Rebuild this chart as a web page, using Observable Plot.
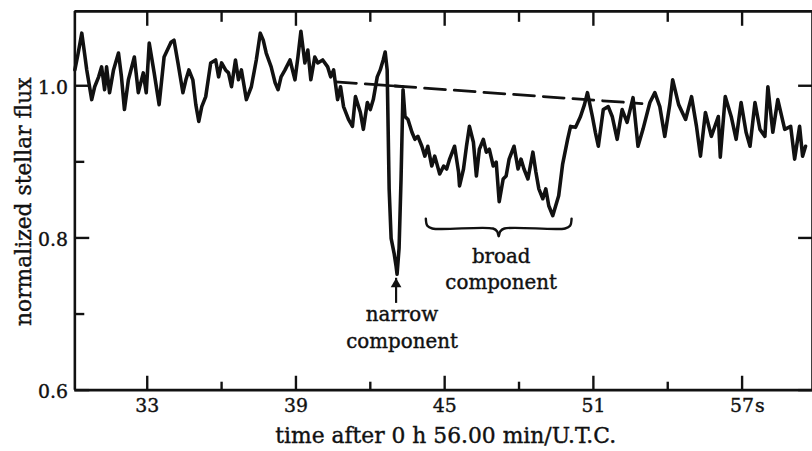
<!DOCTYPE html>
<html><head><meta charset="utf-8">
<script src="https://cdn.jsdelivr.net/npm/d3@7"></script>
<script src="https://cdn.jsdelivr.net/npm/@observablehq/plot@0.6"></script>
<style>
html,body{margin:0;padding:0;background:#fff;overflow:hidden;width:812px;height:451px}
#chart svg{display:block}
#chart text{stroke:#111;stroke-width:0.4px}
</style></head><body><div id="chart"></div>
<script>
// time in seconds after 0 h 56.00 min UTC
const time = [
30.08,30.20,30.36,30.48,30.56,30.76,30.88,31.04,31.16,31.28,31.36,31.48,31.64,31.84,31.96,32.08,32.24,32.48,32.64,32.84,32.96,33.08,33.28,33.48,33.68,33.96,34.08,34.24,34.44,34.56,34.68,34.84,34.96,35.08,
35.20,35.36,35.56,35.76,35.88,36.00,36.16,36.28,36.40,36.56,36.68,36.80,37.00,37.20,37.40,37.56,37.68,37.80,38.00,38.16,38.28,38.40,38.56,38.76,38.96,39.08,39.20,39.36,39.48,39.60,39.76,39.88,
40.08,40.28,40.40,40.52,40.68,40.80,40.92,41.12,41.28,41.40,41.60,41.72,41.88,42.00,42.12,42.28,42.40,42.52,42.60,42.68,42.76,42.84,42.96,43.04,43.08,43.16,43.24,43.32,43.40,43.52,43.68,43.80,43.92,44.08,44.20,44.32,44.48,44.60,44.80,
44.96,45.08,45.20,45.40,45.56,45.60,45.76,45.88,46.00,46.16,46.28,46.40,46.56,46.68,46.80,46.96,47.08,47.20,47.36,47.48,47.60,47.80,47.96,48.08,48.20,48.36,48.56,48.68,48.80,48.96,49.08,49.20,49.36,49.48,49.60,49.76,
49.96,50.08,50.28,50.48,50.64,50.76,50.96,51.08,51.20,51.40,51.60,51.76,51.96,52.16,52.36,52.60,52.80,53.00,53.28,53.48,53.68,53.88,54.08,54.20,
54.44,54.72,54.96,55.16,55.32,55.52,55.76,56.04,56.12,56.32,56.56,56.76,56.96,57.16,57.32,57.52,57.72,57.92,58.04,58.24,58.44,58.72,58.96,59.12,59.32,59.44,59.56];
// normalized stellar flux
const flux = [
1.0208,1.0404,1.0691,1.0404,1.0208,0.9818,0.9987,1.0117,1.0248,0.9948,1.0248,0.9909,1.0208,1.0430,1.0117,0.9687,1.0078,1.0378,0.9909,1.0169,0.9909,1.0560,1.0169,0.9752,1.0378,1.0573,1.0599,1.0300,0.9909,1.0078,1.0208,1.0078,0.9752,0.9531,
0.9726,0.9857,1.0300,1.0339,1.0117,1.0300,1.0208,1.0169,0.9987,1.0339,1.0078,1.0208,0.9818,0.9987,1.0339,1.0691,1.0599,1.0430,1.0248,1.0039,0.9948,1.0117,1.0208,1.0339,1.0078,1.0378,1.0717,1.0300,1.0469,1.0078,1.0378,1.0300,
1.0339,1.0248,1.0117,1.0208,0.9818,0.9987,0.9726,0.9557,0.9466,0.9857,0.9648,0.9427,0.9779,0.9687,0.9818,1.0117,1.0208,1.0339,1.0443,1.0208,0.8645,0.7993,0.7798,0.7629,0.7524,0.7863,0.8775,0.9948,0.9596,0.9557,0.9388,0.9296,0.9335,0.9205,0.9075,0.9205,0.8945,0.9075,0.8840,
0.8945,0.8906,0.9036,0.9205,0.8866,0.8684,0.8906,0.9205,0.9466,0.9257,0.8814,0.9166,0.9296,0.9127,0.9166,0.8945,0.8997,0.8476,0.8775,0.8814,0.9036,0.9205,0.8906,0.9036,0.8906,0.8775,0.9127,0.8866,0.8645,0.8515,0.8645,0.8423,0.8293,0.8423,0.8554,0.8971,
0.9296,0.9466,0.9453,0.9596,0.9752,0.9909,0.9596,0.9388,0.9205,0.9687,0.9726,0.9596,0.9296,0.9687,0.9518,0.9844,0.9205,0.9427,0.9779,0.9909,0.9726,0.9335,0.9752,1.0078,
0.9752,0.9557,0.9857,0.9466,0.9075,0.9648,0.9335,0.9596,0.9062,0.9857,0.9596,0.9296,0.9779,0.9388,0.9205,0.9779,0.9427,0.9335,0.9987,0.9388,0.9818,0.9427,0.9466,0.9036,0.9466,0.9075,0.9205];

// extrapolated unocculted level (dashed) and its solid bridge over the narrow dip
const baselineTime = [40.60, 52.96];
const baselineFlux = [1.0052, 0.9766];
const bridgeTime = [42.68, 43.32];
const bridgeFlux = [1.0004, 0.9989];

// axes
const xDomain = [30.08, 59.84];
const yDomain = [0.6, 1.0977];
const xMajor = [33, 39, 45, 51, 57];
const xMinor = [36, 42, 48, 54];
const xTickLabels = ["33", "39", "45", "51", "57"];
const yMajor = [0.6, 0.8, 1.0];
const yMinor = [0.7, 0.9];
const yTickLabels = ["0.6", "0.8", "1.0"];
const xLabel = "time after 0 h 56.00 min/U.T.C.";
const yLabel = "normalized stellar flux";

// annotations
const narrowArrowX = 43.04;
const narrowArrowFlux = [0.714, 0.747];
const narrowText = "narrow\ncomponent";
const narrowTextPos = [43.28, 0.656];
const broadText = "broad\ncomponent";
const broadTextPos = [47.28, 0.733];
const braceRange = [44.24, 50.12];
const braceLevels = [0.8254, 0.8160, 0.8124, 0.8085, 0.8020]; // end, curl, bar, neck, tip

const FONT = "'DejaVu Serif', serif";
const mid = (braceRange[0] + braceRange[1]) / 2;
const [e, c, b, n, tp] = braceLevels;
const L = braceRange[0], R = braceRange[1];
const brace = [
  [L, e], [L + 0.06, c], [L + 0.26, b], [mid - 0.23, b], [mid - 0.06, n], [mid, tp],
  [mid + 0.06, n], [mid + 0.23, b], [R - 0.26, b], [R - 0.06, c], [R, e]
].map(([x, y]) => ({x, y}));

const ink = "#111";
const sw = 2.6;

const chart = Plot.plot({
  width: 819, height: 451,
  marginLeft: 75, marginRight: 0, marginTop: 11, marginBottom: 58,
  x: {domain: xDomain},
  y: {domain: yDomain},
  style: {fontFamily: FONT, fontSize: "20px", color: ink, background: "#fff", overflow: "visible"},
  marks: [
    // frame lines
    Plot.ruleX([xDomain[0], xDomain[1]], {stroke: ink, strokeWidth: sw}),
    Plot.ruleY(yDomain, {stroke: ink, strokeWidth: sw}),
    // inward ticks
    Plot.axisX({ticks: xMajor, anchor: "bottom", tickSize: -14, tickFormat: () => "", strokeWidth: 2.4, stroke: ink, label: null}),
    Plot.axisX({ticks: xMinor, anchor: "bottom", tickSize: -8, tickFormat: () => "", strokeWidth: 2.4, stroke: ink, label: null}),
    Plot.axisX({ticks: xMajor, anchor: "top", tickSize: -14, tickFormat: () => "", strokeWidth: 2.4, stroke: ink, label: null}),
    Plot.axisX({ticks: xMinor, anchor: "top", tickSize: -10, tickFormat: () => "", strokeWidth: 2.4, stroke: ink, label: null}),
    Plot.axisY({ticks: yMajor, anchor: "left", tickSize: -15, tickFormat: () => "", strokeWidth: 2.4, stroke: ink, label: null}),
    Plot.axisY({ticks: yMinor, anchor: "left", tickSize: -10, tickFormat: () => "", strokeWidth: 2.4, stroke: ink, label: null}),
    Plot.axisY({ticks: yMajor, anchor: "right", tickSize: -15, tickFormat: () => "", strokeWidth: 2.4, stroke: ink, label: null}),
    // tick labels
    Plot.axisX({ticks: xMajor, anchor: "bottom", tickSize: 0, tickPadding: 9, tickFormat: (d, i) => xTickLabels[i], fill: ink, fontSize: 19, label: null}),
    Plot.text(["s"], {x: [xMajor[xMajor.length - 1]], y: [yDomain[0]], dx: 13, dy: 9, textAnchor: "start", lineAnchor: "top", fill: ink, fontSize: 19}),
    Plot.axisY({ticks: yMajor, anchor: "left", tickSize: 0, tickPadding: 7, dy: 2, tickFormat: (d, i) => yTickLabels[i], fill: ink, fontSize: 19, label: null}),
    // axis titles
    Plot.text([xLabel], {frameAnchor: "bottom", dy: 53, dx: 2, textAnchor: "middle", lineAnchor: "bottom", fill: ink, fontSize: 22}),
    Plot.text([yLabel], {frameAnchor: "left", dx: -44, dy: 1, rotate: -90, textAnchor: "middle", lineAnchor: "bottom", fill: ink, fontSize: 22}),
    // baseline
    Plot.line(baselineTime, {x: baselineTime, y: baselineFlux, stroke: ink, strokeWidth: 2.8, strokeDasharray: "21,9"}),
    Plot.line(bridgeTime, {x: bridgeTime, y: bridgeFlux, stroke: ink, strokeWidth: 2.6}),
    // light curve
    Plot.line(time, {x: time, y: flux, stroke: ink, strokeWidth: 3.6, strokeLinejoin: "round", strokeLinecap: "round"}),
    // annotations
    Plot.ruleX([narrowArrowX], {y1: narrowArrowFlux[0], y2: narrowArrowFlux[1], stroke: ink, strokeWidth: 2.2}),
    Plot.dot([narrowArrowX], {x: [narrowArrowX], y: [narrowArrowFlux[1]], dy: 6, symbol: "triangle", r: 4, fill: ink, stroke: "none"}),
    Plot.text([narrowText], {x: [narrowTextPos[0]], y: [narrowTextPos[1]], lineAnchor: "bottom", lineHeight: 1.35, fill: ink}),
    Plot.line(brace, {x: "x", y: "y", curve: "catmull-rom", stroke: ink, strokeWidth: 2.4}),
    Plot.text([broadText], {x: [broadTextPos[0]], y: [broadTextPos[1]], lineAnchor: "bottom", lineHeight: 1.3, fill: ink})
  ]
});
document.getElementById("chart").appendChild(chart);
</script></body></html>
